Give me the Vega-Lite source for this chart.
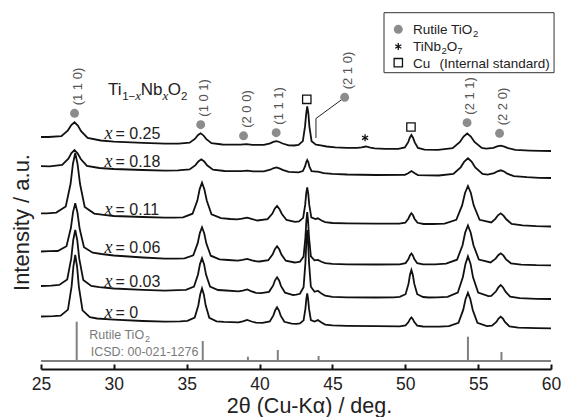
{
"$schema":"https://vega.github.io/schema/vega-lite/v6.json",
"width":510,"height":369,
"autosize":{"type":"none"},
"padding":{"left":41,"top":0,"right":13,"bottom":48},
"background":"white",
"config":{"view":{"stroke":null},"font":"Liberation Sans"},
"datasets":{
"curves":[
{"s":"0","t":25,"i":52.5},{"s":"0","t":25.85,"i":52.8},{"s":"0","t":26.35,"i":53.3},{"s":"0","t":26.85,"i":59.4},{"s":"0","t":27.1,"i":82.6},{"s":"0","t":27.225,"i":102.7},{"s":"0","t":27.35,"i":114},{"s":"0","t":27.475,"i":102.5},{"s":"0","t":27.6,"i":82.2},{"s":"0","t":27.85,"i":58.7},{"s":"0","t":28.35,"i":51.8},{"s":"0","t":28.85,"i":50.5},{"s":"0","t":30,"i":49.4},{"s":"0","t":32,"i":48},{"s":"0","t":33.5,"i":47.4},{"s":"0","t":34.55,"i":47.7},{"s":"0","t":35.05,"i":48.1},{"s":"0","t":35.55,"i":51.4},{"s":"0","t":35.8,"i":63.8},{"s":"0","t":35.925,"i":74.6},{"s":"0","t":36.05,"i":80.7},{"s":"0","t":36.175,"i":74.6},{"s":"0","t":36.3,"i":63.7},{"s":"0","t":36.55,"i":51.2},{"s":"0","t":37.05,"i":47.7},{"s":"0","t":37.55,"i":47.1},{"s":"0","t":38.55,"i":46.7},{"s":"0","t":38.85,"i":47.7},{"s":"0","t":39.15,"i":49.1},{"s":"0","t":39.45,"i":47.5},{"s":"0","t":39.75,"i":46.3},{"s":"0","t":40.2,"i":46.2},{"s":"0","t":40.7,"i":47.6},{"s":"0","t":40.95,"i":53.6},{"s":"0","t":41.075,"i":58.8},{"s":"0","t":41.2,"i":61.7},{"s":"0","t":41.325,"i":58.7},{"s":"0","t":41.45,"i":53.4},{"s":"0","t":41.7,"i":47.2},{"s":"0","t":42.2,"i":45.4},{"s":"0","t":42.52,"i":45.2},{"s":"0","t":42.77,"i":45.5},{"s":"0","t":43.02,"i":48.6},{"s":"0","t":43.145,"i":60.2},{"s":"0","t":43.21,"i":70.1},{"s":"0","t":43.27,"i":75.7},{"s":"0","t":43.33,"i":70.1},{"s":"0","t":43.395,"i":60.1},{"s":"0","t":43.52,"i":49},{"s":"0","t":43.77,"i":47.5},{"s":"0","t":44,"i":48.9},{"s":"0","t":44.25,"i":46.4},{"s":"0","t":44.5,"i":44.4},{"s":"0","t":45,"i":43.7},{"s":"0","t":46,"i":43.2},{"s":"0","t":48,"i":42.8},{"s":"0","t":49.62,"i":42.7},{"s":"0","t":50.02,"i":43.6},{"s":"0","t":50.22,"i":46.9},{"s":"0","t":50.32,"i":49.8},{"s":"0","t":50.42,"i":51.5},{"s":"0","t":50.52,"i":49.8},{"s":"0","t":50.62,"i":46.9},{"s":"0","t":50.82,"i":43.4},{"s":"0","t":51.22,"i":42.5},{"s":"0","t":52.35,"i":42.4},{"s":"0","t":53,"i":42.8},{"s":"0","t":53.65,"i":46.2},{"s":"0","t":53.975,"i":59.1},{"s":"0","t":54.14,"i":70.1},{"s":"0","t":54.3,"i":76.3},{"s":"0","t":54.46,"i":70.1},{"s":"0","t":54.63,"i":59},{"s":"0","t":54.95,"i":46.2},{"s":"0","t":55.6,"i":42.9},{"s":"0","t":55.95,"i":43.4},{"s":"0","t":56.25,"i":47.1},{"s":"0","t":56.4,"i":50.5},{"s":"0","t":56.55,"i":52.3},{"s":"0","t":56.7,"i":50.3},{"s":"0","t":56.85,"i":46.8},{"s":"0","t":57.15,"i":42.7},{"s":"0","t":57.75,"i":41.3},{"s":"0","t":59,"i":40.8},{"s":"0","t":60,"i":40.7},
{"s":"0.03","t":25,"i":83},{"s":"0.03","t":25.7,"i":83.4},{"s":"0.03","t":26.25,"i":84.1},{"s":"0.03","t":26.8,"i":89.6},{"s":"0.03","t":27.075,"i":110.6},{"s":"0.03","t":27.21,"i":128.8},{"s":"0.03","t":27.35,"i":139},{"s":"0.03","t":27.49,"i":128.7},{"s":"0.03","t":27.625,"i":110.3},{"s":"0.03","t":27.9,"i":89},{"s":"0.03","t":28.45,"i":83},{"s":"0.03","t":29,"i":81.8},{"s":"0.03","t":30,"i":80.5},{"s":"0.03","t":32,"i":79.1},{"s":"0.03","t":33.5,"i":78.4},{"s":"0.03","t":34.4,"i":78.8},{"s":"0.03","t":34.95,"i":79.2},{"s":"0.03","t":35.5,"i":82.5},{"s":"0.03","t":35.775,"i":94.5},{"s":"0.03","t":35.91,"i":104.9},{"s":"0.03","t":36.05,"i":110.7},{"s":"0.03","t":36.19,"i":104.8},{"s":"0.03","t":36.325,"i":94.4},{"s":"0.03","t":36.6,"i":82.4},{"s":"0.03","t":37.15,"i":79},{"s":"0.03","t":37.7,"i":78.5},{"s":"0.03","t":38.55,"i":77.7},{"s":"0.03","t":38.85,"i":78.4},{"s":"0.03","t":39.15,"i":79.6},{"s":"0.03","t":39.45,"i":77.7},{"s":"0.03","t":39.75,"i":76.2},{"s":"0.03","t":40.1,"i":75.9},{"s":"0.03","t":40.65,"i":77.2},{"s":"0.03","t":40.925,"i":83.3},{"s":"0.03","t":41.06,"i":88.7},{"s":"0.03","t":41.2,"i":91.7},{"s":"0.03","t":41.34,"i":88.5},{"s":"0.03","t":41.475,"i":82.9},{"s":"0.03","t":41.75,"i":76.3},{"s":"0.03","t":42.3,"i":74},{"s":"0.03","t":42.52,"i":74.3},{"s":"0.03","t":42.77,"i":75.2},{"s":"0.03","t":43.02,"i":81.7},{"s":"0.03","t":43.145,"i":106.1},{"s":"0.03","t":43.21,"i":127.1},{"s":"0.03","t":43.27,"i":139},{"s":"0.03","t":43.33,"i":127},{"s":"0.03","t":43.395,"i":106},{"s":"0.03","t":43.52,"i":82.2},{"s":"0.03","t":43.77,"i":77.2},{"s":"0.03","t":44,"i":78.3},{"s":"0.03","t":44.25,"i":75.4},{"s":"0.03","t":44.5,"i":73.3},{"s":"0.03","t":45,"i":72.2},{"s":"0.03","t":46,"i":71.7},{"s":"0.03","t":48,"i":71.5},{"s":"0.03","t":49.22,"i":71.7},{"s":"0.03","t":49.62,"i":72.1},{"s":"0.03","t":50.02,"i":74.8},{"s":"0.03","t":50.22,"i":85.1},{"s":"0.03","t":50.32,"i":94},{"s":"0.03","t":50.42,"i":99},{"s":"0.03","t":50.52,"i":94},{"s":"0.03","t":50.62,"i":85.1},{"s":"0.03","t":50.82,"i":74.8},{"s":"0.03","t":51.22,"i":72},{"s":"0.03","t":51.62,"i":71.5},{"s":"0.03","t":52.2,"i":71.6},{"s":"0.03","t":52.9,"i":72.1},{"s":"0.03","t":53.6,"i":76.3},{"s":"0.03","t":53.95,"i":91.8},{"s":"0.03","t":54.13,"i":105.1},{"s":"0.03","t":54.3,"i":112.7},{"s":"0.03","t":54.48,"i":105.1},{"s":"0.03","t":54.65,"i":91.7},{"s":"0.03","t":55,"i":76.4},{"s":"0.03","t":55.7,"i":72.8},{"s":"0.03","t":55.9,"i":73.1},{"s":"0.03","t":56.23,"i":77.7},{"s":"0.03","t":56.39,"i":81.7},{"s":"0.03","t":56.55,"i":84},{"s":"0.03","t":56.71,"i":81.5},{"s":"0.03","t":56.88,"i":77.3},{"s":"0.03","t":57.2,"i":72.3},{"s":"0.03","t":57.85,"i":70.8},{"s":"0.03","t":59,"i":70.1},{"s":"0.03","t":60,"i":70},
{"s":"0.06","t":25,"i":117.5},{"s":"0.06","t":25.55,"i":117.8},{"s":"0.06","t":26.15,"i":118},{"s":"0.06","t":26.75,"i":122.8},{"s":"0.06","t":27.05,"i":141},{"s":"0.06","t":27.2,"i":156.9},{"s":"0.06","t":27.35,"i":165.7},{"s":"0.06","t":27.5,"i":156.6},{"s":"0.06","t":27.65,"i":140.5},{"s":"0.06","t":27.95,"i":121.8},{"s":"0.06","t":28.55,"i":116.3},{"s":"0.06","t":29.15,"i":115},{"s":"0.06","t":30,"i":113.5},{"s":"0.06","t":32,"i":111.5},{"s":"0.06","t":33.5,"i":110.3},{"s":"0.06","t":34.25,"i":110.4},{"s":"0.06","t":34.85,"i":110.7},{"s":"0.06","t":35.45,"i":113.7},{"s":"0.06","t":35.75,"i":125.6},{"s":"0.06","t":35.9,"i":135.9},{"s":"0.06","t":36.05,"i":141.7},{"s":"0.06","t":36.2,"i":135.8},{"s":"0.06","t":36.35,"i":125.4},{"s":"0.06","t":36.65,"i":113.3},{"s":"0.06","t":37.25,"i":109.7},{"s":"0.06","t":37.85,"i":109},{"s":"0.06","t":38.5,"i":108.4},{"s":"0.06","t":38.83,"i":109.2},{"s":"0.06","t":39.15,"i":110.1},{"s":"0.06","t":39.48,"i":108.6},{"s":"0.06","t":39.8,"i":107.6},{"s":"0.06","t":40,"i":107.5},{"s":"0.06","t":40.6,"i":108.8},{"s":"0.06","t":40.9,"i":114.7},{"s":"0.06","t":41.05,"i":119.8},{"s":"0.06","t":41.2,"i":122.7},{"s":"0.06","t":41.35,"i":119.7},{"s":"0.06","t":41.5,"i":114.4},{"s":"0.06","t":41.8,"i":108.3},{"s":"0.06","t":42.4,"i":106.5},{"s":"0.06","t":42.52,"i":106.6},{"s":"0.06","t":42.77,"i":107.3},{"s":"0.06","t":43.02,"i":112.4},{"s":"0.06","t":43.145,"i":131.4},{"s":"0.06","t":43.21,"i":147.8},{"s":"0.06","t":43.27,"i":157},{"s":"0.06","t":43.33,"i":147.7},{"s":"0.06","t":43.395,"i":131.3},{"s":"0.06","t":43.52,"i":112.7},{"s":"0.06","t":43.77,"i":108.6},{"s":"0.06","t":44,"i":109.1},{"s":"0.06","t":44.25,"i":107.2},{"s":"0.06","t":44.5,"i":105.8},{"s":"0.06","t":45,"i":105.1},{"s":"0.06","t":46,"i":104.7},{"s":"0.06","t":48,"i":104.5},{"s":"0.06","t":49.62,"i":104.7},{"s":"0.06","t":50.02,"i":105.9},{"s":"0.06","t":50.22,"i":109.9},{"s":"0.06","t":50.32,"i":113.5},{"s":"0.06","t":50.42,"i":115.5},{"s":"0.06","t":50.52,"i":113.5},{"s":"0.06","t":50.62,"i":109.9},{"s":"0.06","t":50.82,"i":105.8},{"s":"0.06","t":51.22,"i":104.6},{"s":"0.06","t":52.05,"i":104.7},{"s":"0.06","t":52.8,"i":105.3},{"s":"0.06","t":53.55,"i":109.3},{"s":"0.06","t":53.93,"i":123.8},{"s":"0.06","t":54.11,"i":136.4},{"s":"0.06","t":54.3,"i":143.5},{"s":"0.06","t":54.49,"i":136.3},{"s":"0.06","t":54.68,"i":123.7},{"s":"0.06","t":55.05,"i":109.5},{"s":"0.06","t":55.85,"i":106.6},{"s":"0.06","t":56.2,"i":110.4},{"s":"0.06","t":56.38,"i":113.8},{"s":"0.06","t":56.55,"i":115.7},{"s":"0.06","t":56.73,"i":113.6},{"s":"0.06","t":56.9,"i":109.9},{"s":"0.06","t":57.25,"i":105.7},{"s":"0.06","t":57.95,"i":104.3},{"s":"0.06","t":59,"i":103.8},{"s":"0.06","t":60,"i":103.7},
{"s":"0.11","t":25,"i":155.7},{"s":"0.11","t":25.4,"i":155.7},{"s":"0.11","t":26.05,"i":156.4},{"s":"0.11","t":26.7,"i":162.5},{"s":"0.11","t":27.03,"i":185.2},{"s":"0.11","t":27.19,"i":205},{"s":"0.11","t":27.35,"i":216},{"s":"0.11","t":27.51,"i":204.9},{"s":"0.11","t":27.68,"i":185},{"s":"0.11","t":28,"i":162},{"s":"0.11","t":28.65,"i":155.4},{"s":"0.11","t":29.3,"i":154.2},{"s":"0.11","t":30,"i":153},{"s":"0.11","t":32,"i":152},{"s":"0.11","t":33.5,"i":151.3},{"s":"0.11","t":34.1,"i":151.4},{"s":"0.11","t":34.75,"i":151.6},{"s":"0.11","t":35.4,"i":155.3},{"s":"0.11","t":35.73,"i":168.4},{"s":"0.11","t":35.89,"i":179.9},{"s":"0.11","t":36.05,"i":186.3},{"s":"0.11","t":36.21,"i":179.7},{"s":"0.11","t":36.38,"i":168.2},{"s":"0.11","t":36.7,"i":154.7},{"s":"0.11","t":37.35,"i":150.8},{"s":"0.11","t":38,"i":150},{"s":"0.11","t":38.45,"i":149.6},{"s":"0.11","t":38.8,"i":150.3},{"s":"0.11","t":39.15,"i":151.4},{"s":"0.11","t":39.5,"i":149.8},{"s":"0.11","t":39.85,"i":148.5},{"s":"0.11","t":40.55,"i":149.8},{"s":"0.11","t":40.88,"i":155.4},{"s":"0.11","t":41.04,"i":160.3},{"s":"0.11","t":41.2,"i":163},{"s":"0.11","t":41.36,"i":160.1},{"s":"0.11","t":41.53,"i":155},{"s":"0.11","t":41.85,"i":149},{"s":"0.11","t":42.43,"i":147.2},{"s":"0.11","t":42.71,"i":147.6},{"s":"0.11","t":42.99,"i":151.1},{"s":"0.11","t":43.13,"i":164.1},{"s":"0.11","t":43.2,"i":175.4},{"s":"0.11","t":43.27,"i":181.7},{"s":"0.11","t":43.34,"i":175.3},{"s":"0.11","t":43.41,"i":164.1},{"s":"0.11","t":43.55,"i":151.6},{"s":"0.11","t":43.83,"i":149.9},{"s":"0.11","t":44,"i":150.7},{"s":"0.11","t":44.25,"i":148.5},{"s":"0.11","t":44.5,"i":146.9},{"s":"0.11","t":45,"i":146},{"s":"0.11","t":46,"i":145.7},{"s":"0.11","t":48,"i":145.3},{"s":"0.11","t":49.58,"i":145.3},{"s":"0.11","t":50,"i":146.3},{"s":"0.11","t":50.21,"i":150.3},{"s":"0.11","t":50.32,"i":153.7},{"s":"0.11","t":50.42,"i":155.7},{"s":"0.11","t":50.53,"i":153.7},{"s":"0.11","t":50.63,"i":150.3},{"s":"0.11","t":50.84,"i":146.2},{"s":"0.11","t":51.26,"i":145},{"s":"0.11","t":51.9,"i":145},{"s":"0.11","t":52.7,"i":145.4},{"s":"0.11","t":53.5,"i":149.2},{"s":"0.11","t":53.9,"i":163.6},{"s":"0.11","t":54.1,"i":176},{"s":"0.11","t":54.3,"i":183},{"s":"0.11","t":54.5,"i":176},{"s":"0.11","t":54.7,"i":163.4},{"s":"0.11","t":55.1,"i":149.2},{"s":"0.11","t":55.9,"i":146.6},{"s":"0.11","t":56.18,"i":150.2},{"s":"0.11","t":56.36,"i":153.7},{"s":"0.11","t":56.55,"i":155.7},{"s":"0.11","t":56.74,"i":153.4},{"s":"0.11","t":56.93,"i":149.7},{"s":"0.11","t":57.3,"i":145.1},{"s":"0.11","t":58.05,"i":143.7},{"s":"0.11","t":59,"i":142.8},{"s":"0.11","t":60,"i":142.5},
{"s":"0.18","t":25,"i":202.8},{"s":"0.18","t":25.6,"i":202.7},{"s":"0.18","t":26.45,"i":204.1},{"s":"0.18","t":26.88,"i":210.4},{"s":"0.18","t":27.09,"i":215.9},{"s":"0.18","t":27.3,"i":219},{"s":"0.18","t":27.51,"i":215.7},{"s":"0.18","t":27.73,"i":210},{"s":"0.18","t":28.15,"i":203.2},{"s":"0.18","t":29,"i":201},{"s":"0.18","t":30,"i":200},{"s":"0.18","t":32,"i":199},{"s":"0.18","t":33.5,"i":198.4},{"s":"0.18","t":34.4,"i":198.6},{"s":"0.18","t":35.2,"i":199.6},{"s":"0.18","t":35.6,"i":203.9},{"s":"0.18","t":35.8,"i":207.6},{"s":"0.18","t":36,"i":209.7},{"s":"0.18","t":36.2,"i":207.5},{"s":"0.18","t":36.4,"i":203.7},{"s":"0.18","t":36.8,"i":199.3},{"s":"0.18","t":37.6,"i":198},{"s":"0.18","t":38.75,"i":197.9},{"s":"0.18","t":39.15,"i":198.4},{"s":"0.18","t":39.55,"i":197.7},{"s":"0.18","t":40.3,"i":197.6},{"s":"0.18","t":40.73,"i":199.3},{"s":"0.18","t":40.94,"i":200.7},{"s":"0.18","t":41.15,"i":201.5},{"s":"0.18","t":41.36,"i":200.6},{"s":"0.18","t":41.58,"i":199.1},{"s":"0.18","t":42,"i":197.2},{"s":"0.18","t":42.67,"i":196.7},{"s":"0.18","t":42.97,"i":197.9},{"s":"0.18","t":43.12,"i":202.6},{"s":"0.18","t":43.2,"i":206.8},{"s":"0.18","t":43.27,"i":209},{"s":"0.18","t":43.35,"i":206.7},{"s":"0.18","t":43.42,"i":202.4},{"s":"0.18","t":43.57,"i":197.9},{"s":"0.18","t":43.87,"i":197.3},{"s":"0.18","t":44,"i":197.4},{"s":"0.18","t":44.4,"i":195.8},{"s":"0.18","t":45,"i":195.1},{"s":"0.18","t":46,"i":194.5},{"s":"0.18","t":48,"i":194},{"s":"0.18","t":49.97,"i":194.1},{"s":"0.18","t":50.2,"i":195.8},{"s":"0.18","t":50.42,"i":198},{"s":"0.18","t":50.65,"i":195.7},{"s":"0.18","t":50.87,"i":193.9},{"s":"0.18","t":52.3,"i":193.5},{"s":"0.18","t":53.3,"i":195.1},{"s":"0.18","t":53.8,"i":201.7},{"s":"0.18","t":54.05,"i":207.5},{"s":"0.18","t":54.3,"i":210.7},{"s":"0.18","t":54.55,"i":207.4},{"s":"0.18","t":54.8,"i":201.5},{"s":"0.18","t":55.3,"i":195},{"s":"0.18","t":55.65,"i":194.3},{"s":"0.18","t":56.1,"i":195.9},{"s":"0.18","t":56.33,"i":197.7},{"s":"0.18","t":56.55,"i":198.7},{"s":"0.18","t":56.78,"i":197.5},{"s":"0.18","t":57,"i":195.3},{"s":"0.18","t":57.45,"i":192.8},{"s":"0.18","t":58.35,"i":191.8},{"s":"0.18","t":59.2,"i":191.2},{"s":"0.18","t":60,"i":191},
{"s":"0.25","t":25,"i":232},{"s":"0.25","t":25.5,"i":232},{"s":"0.25","t":26.4,"i":232.8},{"s":"0.25","t":26.85,"i":238.7},{"s":"0.25","t":27.08,"i":243.9},{"s":"0.25","t":27.3,"i":246.7},{"s":"0.25","t":27.53,"i":243.5},{"s":"0.25","t":27.75,"i":237.8},{"s":"0.25","t":28.2,"i":231.1},{"s":"0.25","t":29.1,"i":228.5},{"s":"0.25","t":30,"i":227.4},{"s":"0.25","t":32,"i":226.1},{"s":"0.25","t":33.5,"i":225.4},{"s":"0.25","t":34.45,"i":225.4},{"s":"0.25","t":35.2,"i":226.3},{"s":"0.25","t":35.58,"i":230.3},{"s":"0.25","t":35.76,"i":233.8},{"s":"0.25","t":35.95,"i":235.7},{"s":"0.25","t":36.14,"i":233.7},{"s":"0.25","t":36.33,"i":230.1},{"s":"0.25","t":36.7,"i":225.9},{"s":"0.25","t":37.45,"i":224.5},{"s":"0.25","t":38.7,"i":224.4},{"s":"0.25","t":39.1,"i":224.8},{"s":"0.25","t":39.5,"i":224.2},{"s":"0.25","t":40.3,"i":224.1},{"s":"0.25","t":40.73,"i":225.7},{"s":"0.25","t":40.94,"i":227.1},{"s":"0.25","t":41.15,"i":227.8},{"s":"0.25","t":41.36,"i":227},{"s":"0.25","t":41.58,"i":225.5},{"s":"0.25","t":42,"i":223.7},{"s":"0.25","t":42.37,"i":223.5},{"s":"0.25","t":42.67,"i":224},{"s":"0.25","t":42.97,"i":227.9},{"s":"0.25","t":43.12,"i":242.6},{"s":"0.25","t":43.2,"i":255.4},{"s":"0.25","t":43.27,"i":262.5},{"s":"0.25","t":43.35,"i":255.3},{"s":"0.25","t":43.42,"i":242.4},{"s":"0.25","t":43.57,"i":227.8},{"s":"0.25","t":43.87,"i":224.4},{"s":"0.25","t":44.2,"i":223.6},{"s":"0.25","t":44.6,"i":222.5},{"s":"0.25","t":45.2,"i":221.6},{"s":"0.25","t":46,"i":221.2},{"s":"0.25","t":46.7,"i":221.2},{"s":"0.25","t":47,"i":221.7},{"s":"0.25","t":47.3,"i":222.5},{"s":"0.25","t":47.6,"i":221.4},{"s":"0.25","t":47.9,"i":220.7},{"s":"0.25","t":48.6,"i":220.1},{"s":"0.25","t":49.52,"i":220.1},{"s":"0.25","t":49.97,"i":221.5},{"s":"0.25","t":50.2,"i":226.8},{"s":"0.25","t":50.31,"i":231.4},{"s":"0.25","t":50.42,"i":234},{"s":"0.25","t":50.53,"i":231.3},{"s":"0.25","t":50.65,"i":226.6},{"s":"0.25","t":50.87,"i":221.1},{"s":"0.25","t":51.32,"i":219.4},{"s":"0.25","t":52.25,"i":219.2},{"s":"0.25","t":53.25,"i":220.9},{"s":"0.25","t":53.75,"i":227.1},{"s":"0.25","t":54,"i":232.5},{"s":"0.25","t":54.25,"i":235.5},{"s":"0.25","t":54.5,"i":232.4},{"s":"0.25","t":54.75,"i":227},{"s":"0.25","t":55.25,"i":221},{"s":"0.25","t":55.55,"i":220.3},{"s":"0.25","t":56.05,"i":221.2},{"s":"0.25","t":56.3,"i":222.6},{"s":"0.25","t":56.55,"i":223.3},{"s":"0.25","t":56.8,"i":222.4},{"s":"0.25","t":57.05,"i":220.9},{"s":"0.25","t":57.55,"i":219.1},{"s":"0.25","t":58.55,"i":218.4},{"s":"0.25","t":59.3,"i":218.1},{"s":"0.25","t":60,"i":218}
],
"rutile":[{"t":27.30,"i":255.7,"lab":"(1 1 0)"},{"t":35.96,"i":244.3,"lab":"(1 0 1)"},{"t":38.90,"i":233.2,"lab":"(2 0 0)"},{"t":41.14,"i":236.3,"lab":"(1 1 1)"},{"t":45.84,"i":271.7,"lab":"(2 1 0)"},{"t":54.24,"i":246.3,"lab":"(2 1 1)"},{"t":56.47,"i":235.7,"lab":"(2 2 0)"},{"t":49.52,"i":339.7,"lab":""}],
"cu":[{"t":43.24,"i":269.7},{"t":50.39,"i":242},{"t":49.52,"i":306.3}],
"tnb":[{"t":47.24,"i":231.2},{"t":49.52,"i":322.5}],
"box":[{"t":48.54,"t2":60.21,"i":356.3,"i2":296.3}],
"lead":[{"o":1,"t":43.87,"i":231},{"o":2,"t":43.87,"i":250.5},{"o":3,"t":45.6,"i":269}],
"ref":[{"t":27.45,"i":47.3},{"t":36.1,"i":28},{"t":39.2,"i":12.3},{"t":41.25,"i":19},{"t":44.05,"i":13},{"t":54.3,"i":32.3},{"t":56.6,"i":17}],
"refbase":[{"t":25,"t2":60,"i":8}],
"texts":[
{"k":"lab","t":30.11,"i":230,"txt":"= 0.25"},{"k":"lab","t":30.11,"i":201.6,"txt":"= 0.18"},{"k":"lab","t":30.11,"i":154,"txt":"= 0.11"},{"k":"lab","t":30.11,"i":116,"txt":"= 0.06"},{"k":"lab","t":30.11,"i":81.6,"txt":"= 0.03"},{"k":"lab","t":30.11,"i":51,"txt":"= 0"},
{"k":"labx","t":29.36,"i":230,"txt":"x"},{"k":"labx","t":29.36,"i":201.6,"txt":"x"},{"k":"labx","t":29.36,"i":154,"txt":"x"},{"k":"labx","t":29.36,"i":116,"txt":"x"},{"k":"labx","t":29.36,"i":81.6,"txt":"x"},{"k":"labx","t":29.36,"i":51,"txt":"x"},
{"k":"fm","t":29.60,"i":274,"txt":"Ti"},{"k":"fm","t":31.84,"i":274,"txt":"Nb"},{"k":"fm","t":33.69,"i":274,"txt":"O"},
{"k":"fs","t":30.57,"i":269.5,"txt":"1−"},{"k":"fs","t":34.60,"i":269.5,"txt":"2"},
{"k":"fsx","t":31.47,"i":269.5,"txt":"x"},{"k":"fsx","t":33.33,"i":269.5,"txt":"x"},
{"k":"lg","t":50.53,"i":334.9,"txt":"Rutile TiO"},{"k":"lg","t":50.53,"i":317.7,"txt":"TiNb"},{"k":"lg","t":52.85,"i":317.7,"txt":"O"},{"k":"lg","t":50.53,"i":301.5,"txt":"Cu"},{"k":"lg","t":52.34,"i":301.5,"txt":"(Internal standard)"},
{"k":"lgs","t":54.65,"i":331.8,"txt":"2"},{"k":"lgs","t":52.49,"i":314.6,"txt":"2"},{"k":"lgs","t":53.57,"i":314.6,"txt":"7"},
{"k":"rf","t":28.31,"i":30,"txt":"Rutile TiO"},{"k":"rf","t":28.41,"i":13,"txt":"ICSD: 00-021-1276"},
{"k":"rfs","t":32.13,"i":27,"txt":"2"}
]
},
"encoding":{
"x":{"field":"t","type":"quantitative","scale":{"domain":[25,60],"nice":false,"zero":false},
"axis":{"title":"2θ (Cu-Kα) / deg.","values":[25,30,35,40,45,50,55,60],"grid":false,"domainColor":"#111","domainWidth":2,"tickColor":"#111","tickWidth":2,"tickSize":-5,"labelFont":"Liberation Sans","labelFontSize":17.5,"labelColor":"#222","labelPadding":11,"labelFlush":false,"titleFont":"Liberation Sans","titleFontSize":21.5,"titleFontWeight":"normal","titleColor":"#222","titleX":268,"titleY":43,"titleBaseline":"alphabetic","titleAlign":"center"}},
"y":{"field":"i","type":"quantitative","scale":{"domain":[0,369],"nice":false,"zero":false},
"axis":{"title":"Intensity / a.u.","domain":false,"ticks":false,"labels":false,"grid":false,"titleFont":"Liberation Sans","titleFontSize":22,"titleFontWeight":"normal","titleColor":"#222","titleX":-20,"titleY":222,"titleAngle":270,"titleAlign":"center","titleBaseline":"middle"}}
},
"layer":[
{"data":{"name":"box"},"mark":{"type":"rect","fill":"white","stroke":"#333","strokeWidth":1},"encoding":{"x2":{"field":"t2"},"y2":{"field":"i2"}}},
{"data":{"name":"refbase"},"mark":{"type":"rule","color":"#808080","strokeWidth":2},"encoding":{"x2":{"field":"t2"}}},
{"data":{"name":"ref"},"mark":{"type":"rule","color":"#808080","strokeWidth":2},"encoding":{"y2":{"datum":8}}},
{"data":{"name":"curves"},"mark":{"type":"line","color":"#111","strokeWidth":1.8},"encoding":{"detail":{"field":"s"}}},
{"data":{"name":"lead"},"mark":{"type":"line","color":"#222","strokeWidth":1},"encoding":{"order":{"field":"o"}}},
{"data":{"name":"rutile"},"mark":{"type":"point","shape":"circle","filled":true,"color":"#8c8c8c","opacity":1,"size":80}},
{"data":{"name":"rutile"},"mark":{"type":"text","angle":270,"align":"left","baseline":"middle","xOffset":3,"yOffset":-8,"font":"Liberation Sans","fontSize":13,"color":"#555"},"encoding":{"text":{"field":"lab"}}},
{"data":{"name":"cu"},"mark":{"type":"point","shape":"square","filled":false,"stroke":"#111","strokeWidth":1.3,"opacity":1,"size":70}},
{"data":{"name":"tnb"},"mark":{"type":"point","shape":"M0,-1L0,1M-0.866,-0.5L0.866,0.5M-0.866,0.5L0.866,-0.5","filled":false,"stroke":"#111","strokeWidth":1.3,"opacity":1,"size":50}},
{"data":{"name":"texts"},"transform":[{"filter":"datum.k == 'lab'"}],"mark":{"type":"text","align":"left","baseline":"alphabetic","font":"Liberation Sans","fontSize":16,"color":"#222"},"encoding":{"text":{"field":"txt"}}},
{"data":{"name":"texts"},"transform":[{"filter":"datum.k == 'labx'"}],"mark":{"type":"text","align":"left","baseline":"alphabetic","font":"Liberation Serif","fontStyle":"italic","fontSize":18,"color":"#222"},"encoding":{"text":{"field":"txt"}}},
{"data":{"name":"texts"},"transform":[{"filter":"datum.k == 'fm'"}],"mark":{"type":"text","align":"left","baseline":"alphabetic","font":"Liberation Sans","fontSize":17,"color":"#222"},"encoding":{"text":{"field":"txt"}}},
{"data":{"name":"texts"},"transform":[{"filter":"datum.k == 'fs'"}],"mark":{"type":"text","align":"left","baseline":"alphabetic","font":"Liberation Sans","fontSize":11.5,"color":"#222"},"encoding":{"text":{"field":"txt"}}},
{"data":{"name":"texts"},"transform":[{"filter":"datum.k == 'fsx'"}],"mark":{"type":"text","align":"left","baseline":"alphabetic","font":"Liberation Serif","fontStyle":"italic","fontSize":13,"color":"#222"},"encoding":{"text":{"field":"txt"}}},
{"data":{"name":"texts"},"transform":[{"filter":"datum.k == 'lg'"}],"mark":{"type":"text","align":"left","baseline":"alphabetic","font":"Liberation Sans","fontSize":13.5,"color":"#222"},"encoding":{"text":{"field":"txt"}}},
{"data":{"name":"texts"},"transform":[{"filter":"datum.k == 'lgs'"}],"mark":{"type":"text","align":"left","baseline":"alphabetic","font":"Liberation Sans","fontSize":9.5,"color":"#222"},"encoding":{"text":{"field":"txt"}}},
{"data":{"name":"texts"},"transform":[{"filter":"datum.k == 'rf'"}],"mark":{"type":"text","align":"left","baseline":"alphabetic","font":"Liberation Sans","fontSize":12.5,"color":"#7a7a7a"},"encoding":{"text":{"field":"txt"}}},
{"data":{"name":"texts"},"transform":[{"filter":"datum.k == 'rfs'"}],"mark":{"type":"text","align":"left","baseline":"alphabetic","font":"Liberation Sans","fontSize":9,"color":"#7a7a7a"},"encoding":{"text":{"field":"txt"}}}
]
}
